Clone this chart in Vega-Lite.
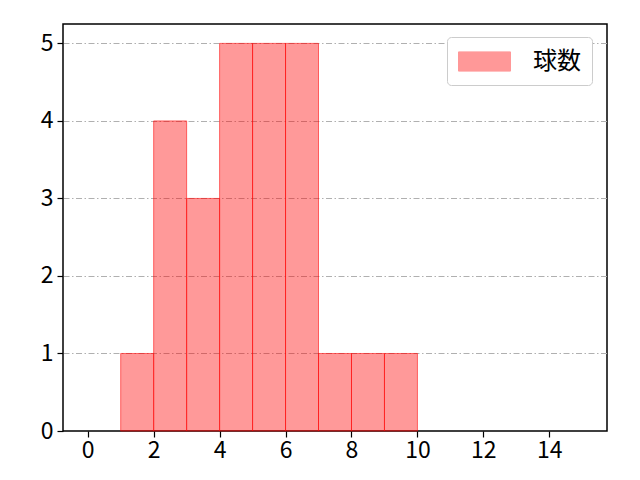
{
  "$schema": "https://vega.github.io/schema/vega-lite/v6.json",
  "width": 544,
  "height": 407,
  "autosize": "none",
  "padding": {"left": 63, "top": 24, "right": 33, "bottom": 49},
  "background": "white",
  "config": {
    "font": "Noto Sans CJK JP",
    "view": {"stroke": "black", "strokeWidth": 1.5},
    "axis": {
      "labelFont": "Noto Sans CJK JP",
      "labelFontSize": 23,
      "labelColor": "black",
      "tickColor": "black",
      "tickSize": 6,
      "tickWidth": 1.2,
      "domain": false,
      "title": null
    }
  },
  "data": {
    "values": [
      {"start": 1, "end": 2, "count": 1, "series": "球数"},
      {"start": 2, "end": 3, "count": 4, "series": "球数"},
      {"start": 3, "end": 4, "count": 3, "series": "球数"},
      {"start": 4, "end": 5, "count": 5, "series": "球数"},
      {"start": 5, "end": 6, "count": 5, "series": "球数"},
      {"start": 6, "end": 7, "count": 5, "series": "球数"},
      {"start": 7, "end": 8, "count": 1, "series": "球数"},
      {"start": 8, "end": 9, "count": 1, "series": "球数"},
      {"start": 9, "end": 10, "count": 1, "series": "球数"}
    ]
  },
  "mark": {
    "type": "rect",
    "fillOpacity": 0.4,
    "stroke": "red",
    "strokeOpacity": 0.55,
    "strokeWidth": 1
  },
  "encoding": {
    "x": {
      "field": "start",
      "type": "quantitative",
      "scale": {"domain": [-0.75, 15.75], "nice": false, "zero": false},
      "axis": {"values": [0, 2, 4, 6, 8, 10, 12, 14], "grid": false, "labelPadding": 2}
    },
    "x2": {"field": "end"},
    "y": {
      "field": "count",
      "type": "quantitative",
      "scale": {"domain": [0, 5.25], "nice": false},
      "axis": {
        "values": [0, 1, 2, 3, 4, 5],
        "grid": true,
        "gridColor": "#b0b0b0",
        "gridWidth": 1,
        "gridDash": [6, 2.5, 1.5, 2.5],
        "gridOpacity": {"condition": {"test": "datum.value === 0", "value": 0}, "value": 1},
        "labelPadding": 4
      }
    },
    "y2": {"datum": 0},
    "color": {
      "field": "series",
      "type": "nominal",
      "scale": {"range": ["red"]},
      "legend": {
        "title": null,
        "orient": "none",
        "legendX": 384,
        "legendY": 13,
        "padding": 11,
        "fillColor": "white",
        "strokeColor": "#cccccc",
        "cornerRadius": 4,
        "symbolType": "M-2,-0.74H2V0.74H-2Z",
        "symbolSize": 676,
        "symbolOffset": 13,
        "symbolOpacity": 0.4,
        "symbolStrokeColor": "red",
        "symbolStrokeWidth": 1,
        "labelFontSize": 24,
        "labelColor": "black",
        "labelOffset": 35
      }
    }
  }
}
